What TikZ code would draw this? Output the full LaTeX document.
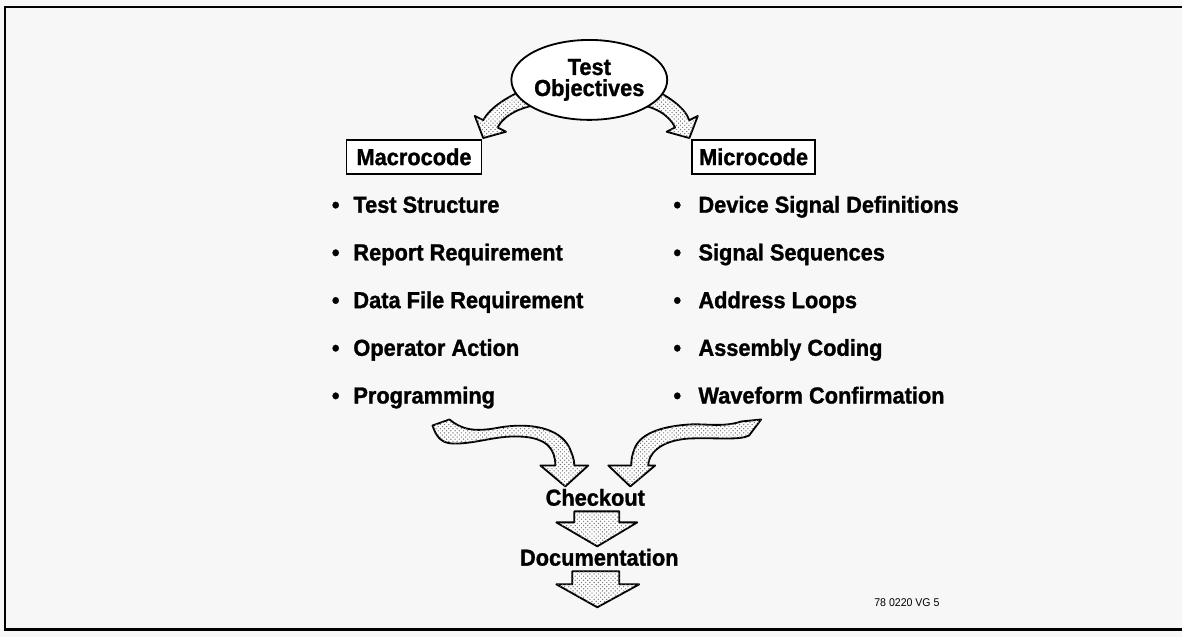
\documentclass[tikz,border=0pt]{standalone}
\usepackage{fontspec}
\setmainfont{Liberation Sans}[FakeStretch=0.94,BoldFeatures={FakeBold=1.2}]
\usetikzlibrary{positioning,shapes.geometric,patterns}
\tikzset{
  chart/.style={x=0.025cm,y=-0.025cm,font=\fontsize{16.5}{15}\selectfont\bfseries},
  goal/.style={ellipse,draw,line width=1.3pt,fill=white,minimum width=3.5cm,minimum height=2cm,inner sep=0pt,align=center},
  code/.style={rectangle,draw,line width=1.3pt,fill=white,minimum height=0.85cm,inner sep=0pt},
  item/.style={anchor=base west,inner sep=0pt},
  fat/.style={draw,line width=1.3pt,line join=round,fill=white,
    postaction={pattern=crosshatch dots,pattern color=black!55}},
  frame/.style={line width=2pt},
}

\begin{document}
\begin{tikzpicture}[chart]
  \fill[black!3] (0,0) rectangle (1183,638);
  \draw[frame] (1183,7) -- (5,7) -- (5,630) -- (1183,630);

  % arrows out of the objectives, under the ellipse
  \path[fat] (530,88) .. controls (510,95) and (490,108) .. (483.9,120.4) -- (475.4,116.1) -- (483.8,138.2)
    -- (506.6,131.9) -- (498.1,127.6) .. controls (505,115) and (522,106) .. (545,104) -- cycle;
  \path[fat] (650,88) .. controls (668,95) and (686,108) .. (690.1,120.4) -- (698.6,116.1) -- (690.2,138.2)
    -- (667.4,131.9) -- (675.9,127.6) .. controls (670,115) and (655,106) .. (635,104) -- cycle;

  \node[goal] (obj) at (590,80) {Test\\Objectives};
  \node[code,minimum width=3.375cm] (mac) at (414.5,157) {Macrocode};
  \node[code,minimum width=3.075cm] (mic) at (754.5,157) {Microcode};

  \foreach \t [count=\i] in {Test Structure,Report Requirement,Data File Requirement,Operator Action,Programming}
    \node[item] (mac\i) at (332,165.25+47.75*\i) {\textbullet\hspace{0.6em}\t};
  \foreach \t [count=\i] in {Device Signal Definitions,Signal Sequences,Address Loops,Assembly Coding,Waveform Confirmation}
    \node[item] (mic\i) at (674,165.25+47.75*\i) {\textbullet\hspace{0.75em}\t};

  % both lists run into the checkout
  \path[fat] (433,426) -- (450,420)
    .. controls (462,430) and (475,433) .. (500,428)
    .. controls (530,423) and (560,428) .. (570,448)
    .. controls (573,455) and (575,460) .. (575,466)
    -- (589,466) -- (566,487) -- (541,466) -- (556,466)
    .. controls (556,450) and (548,438) .. (520,437)
    .. controls (495,436) and (475,445) .. (452,444)
    .. controls (442,443) and (437,438) .. (433,426) -- cycle;
  \path[fat] (762,420) -- (742,422)
    .. controls (725,428) and (705,424) .. (690,425)
    .. controls (660,427) and (640,435) .. (635,450)
    .. controls (633,455) and (632,460) .. (632,466)
    -- (609,466) -- (631,487) -- (656,466) -- (649,466)
    .. controls (649,455) and (660,441) .. (690,439)
    .. controls (720,438) and (740,441) .. (750,436) -- cycle;

  \node (chk) at (596,498) {Checkout};
  \node (doc) at (600,558) {Documentation};
  \path[fat] (575,512) -- (620,512) -- (620,523) -- (638,523) -- (598,547) -- (557,523) -- (575,523) -- cycle;
  \path[fat] (573,572) -- (620,572) -- (620,585) -- (640,585) -- (598,608) -- (557,585) -- (573,585) -- cycle;

  \node[font=\fontsize{8}{9}\selectfont] (fig) at (908,603) {78 0220 VG 5};
\end{tikzpicture}
\end{document}
